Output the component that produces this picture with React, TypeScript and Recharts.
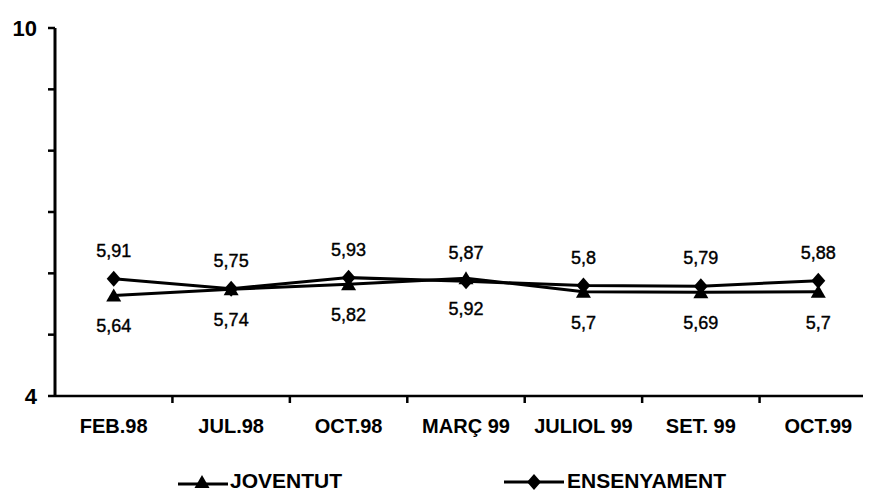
import { LineChart, Line, XAxis, YAxis, Legend, LabelList } from 'recharts'

const months = ['FEB.98', 'JUL.98', 'OCT.98', 'MARÇ 99', 'JULIOL 99', 'SET. 99', 'OCT.99']
const joventut = [5.64, 5.74, 5.82, 5.92, 5.7, 5.69, 5.7]
const ensenyament = [5.91, 5.75, 5.93, 5.87, 5.8, 5.79, 5.88]
const yTicks = [4, 5, 6, 7, 8, 9, 10]
const yLabelled = [4, 10]

const font = '"Liberation Sans", Arial, Helvetica, sans-serif'

const data = months.map((m, i) => ({ month: m, joventut: joventut[i], ensenyament: ensenyament[i] }))

const comma = (v: any) => String(v).replace('.', ',')

const Triangle = ({ cx, cy }: { cx: number; cy: number }) => (
  <polygon points={`${cx},${cy - 7} ${cx - 7.5},${cy + 6} ${cx + 7.5},${cy + 6}`} fill="#000" />
)

const Diamond = ({ cx, cy }: { cx: number; cy: number }) => (
  <polygon points={`${cx},${cy - 8} ${cx + 7},${cy} ${cx},${cy + 8} ${cx - 7},${cy}`} fill="#000" />
)

function YTick({ x, y, payload }: any) {
  if (!yLabelled.includes(payload.value)) return null
  return (
    <text x={x} y={y} textAnchor="end" dominantBaseline="central" fontFamily={font} fontSize={22} fontWeight="bold" fill="#000">
      {payload.value}
    </text>
  )
}

function XTick({ x, y, payload, index }: any) {
  const half = payload.offset ?? 0
  const i = index ?? payload.index
  const axisY = y - 7
  return (
    <g>
      {i < months.length - 1 && (
        <line x1={x + half} x2={x + half} y1={axisY} y2={axisY + 7} stroke="#000" strokeWidth={2.5} />
      )}
      <text x={x} y={axisY + 30} textAnchor="middle" dominantBaseline="central" fontFamily={font} fontSize={20} fontWeight="bold" fill="#000">
        {payload.value}
      </text>
    </g>
  )
}

function LegendBox() {
  const txt = { position: 'absolute' as const, top: 34, fontFamily: font, fontSize: 21, fontWeight: 'bold' as const, lineHeight: '22px', color: '#000' }
  return (
    <div style={{ position: 'relative', height: 59, width: '100%' }}>
      <svg style={{ position: 'absolute', left: 170, top: 34 }} width={50} height={22}>
        <line x1={0} x2={50} y1={14} y2={14} stroke="#000" strokeWidth={3} />
        <Triangle cx={24} cy={12} />
      </svg>
      <span style={{ ...txt, left: 222 }}>JOVENTUT</span>
      <svg style={{ position: 'absolute', left: 496, top: 34 }} width={60} height={22}>
        <line x1={0} x2={60} y1={12} y2={12} stroke="#000" strokeWidth={3} />
        <Diamond cx={30} cy={12} />
      </svg>
      <span style={{ ...txt, left: 559 }}>ENSENYAMENT</span>
    </div>
  )
}

export default function App() {
  return (
    <div style={{ width: 863, height: 487, overflow: 'hidden', background: '#fff' }}>
      <LineChart width={880} height={487} data={data} margin={{ top: 20, right: 11, left: 0, bottom: 0 }}>
        <XAxis
          dataKey="month"
          scale="band"
          height={40}
          interval={0}
          tickSize={7}
          tickMargin={0}
          tickLine={false}
          axisLine={{ stroke: '#000', strokeWidth: 2.5 }}
          tick={<XTick />}
        />
        <YAxis
          width={47}
          domain={[4, 10]}
          ticks={yTicks}
          interval={0}
          tickSize={7}
          tickMargin={11}
          axisLine={{ stroke: '#000', strokeWidth: 3 }}
          tickLine={{ stroke: '#000', strokeWidth: 2.5 }}
          tick={<YTick />}
        />
        <Legend verticalAlign="bottom" height={59} content={<LegendBox />} />
        <Line
          dataKey="joventut"
          name="JOVENTUT"
          stroke="#000"
          strokeWidth={3}
          isAnimationActive={false}
          dot={(p: any) => <Triangle key={p.index} cx={p.cx} cy={p.cy} />}
          activeDot={false}
        >
          <LabelList dataKey="joventut" position="bottom" offset={24} formatter={comma} fontFamily={font} fontSize={18} fill="#000" stroke="#000" strokeWidth={0.4} />
        </Line>
        <Line
          dataKey="ensenyament"
          name="ENSENYAMENT"
          stroke="#000"
          strokeWidth={3}
          isAnimationActive={false}
          dot={(p: any) => <Diamond key={p.index} cx={p.cx} cy={p.cy} />}
          activeDot={false}
        >
          <LabelList dataKey="ensenyament" position="top" offset={22} formatter={comma} fontFamily={font} fontSize={18} fill="#000" stroke="#000" strokeWidth={0.4} />
        </Line>
      </LineChart>
    </div>
  )
}
